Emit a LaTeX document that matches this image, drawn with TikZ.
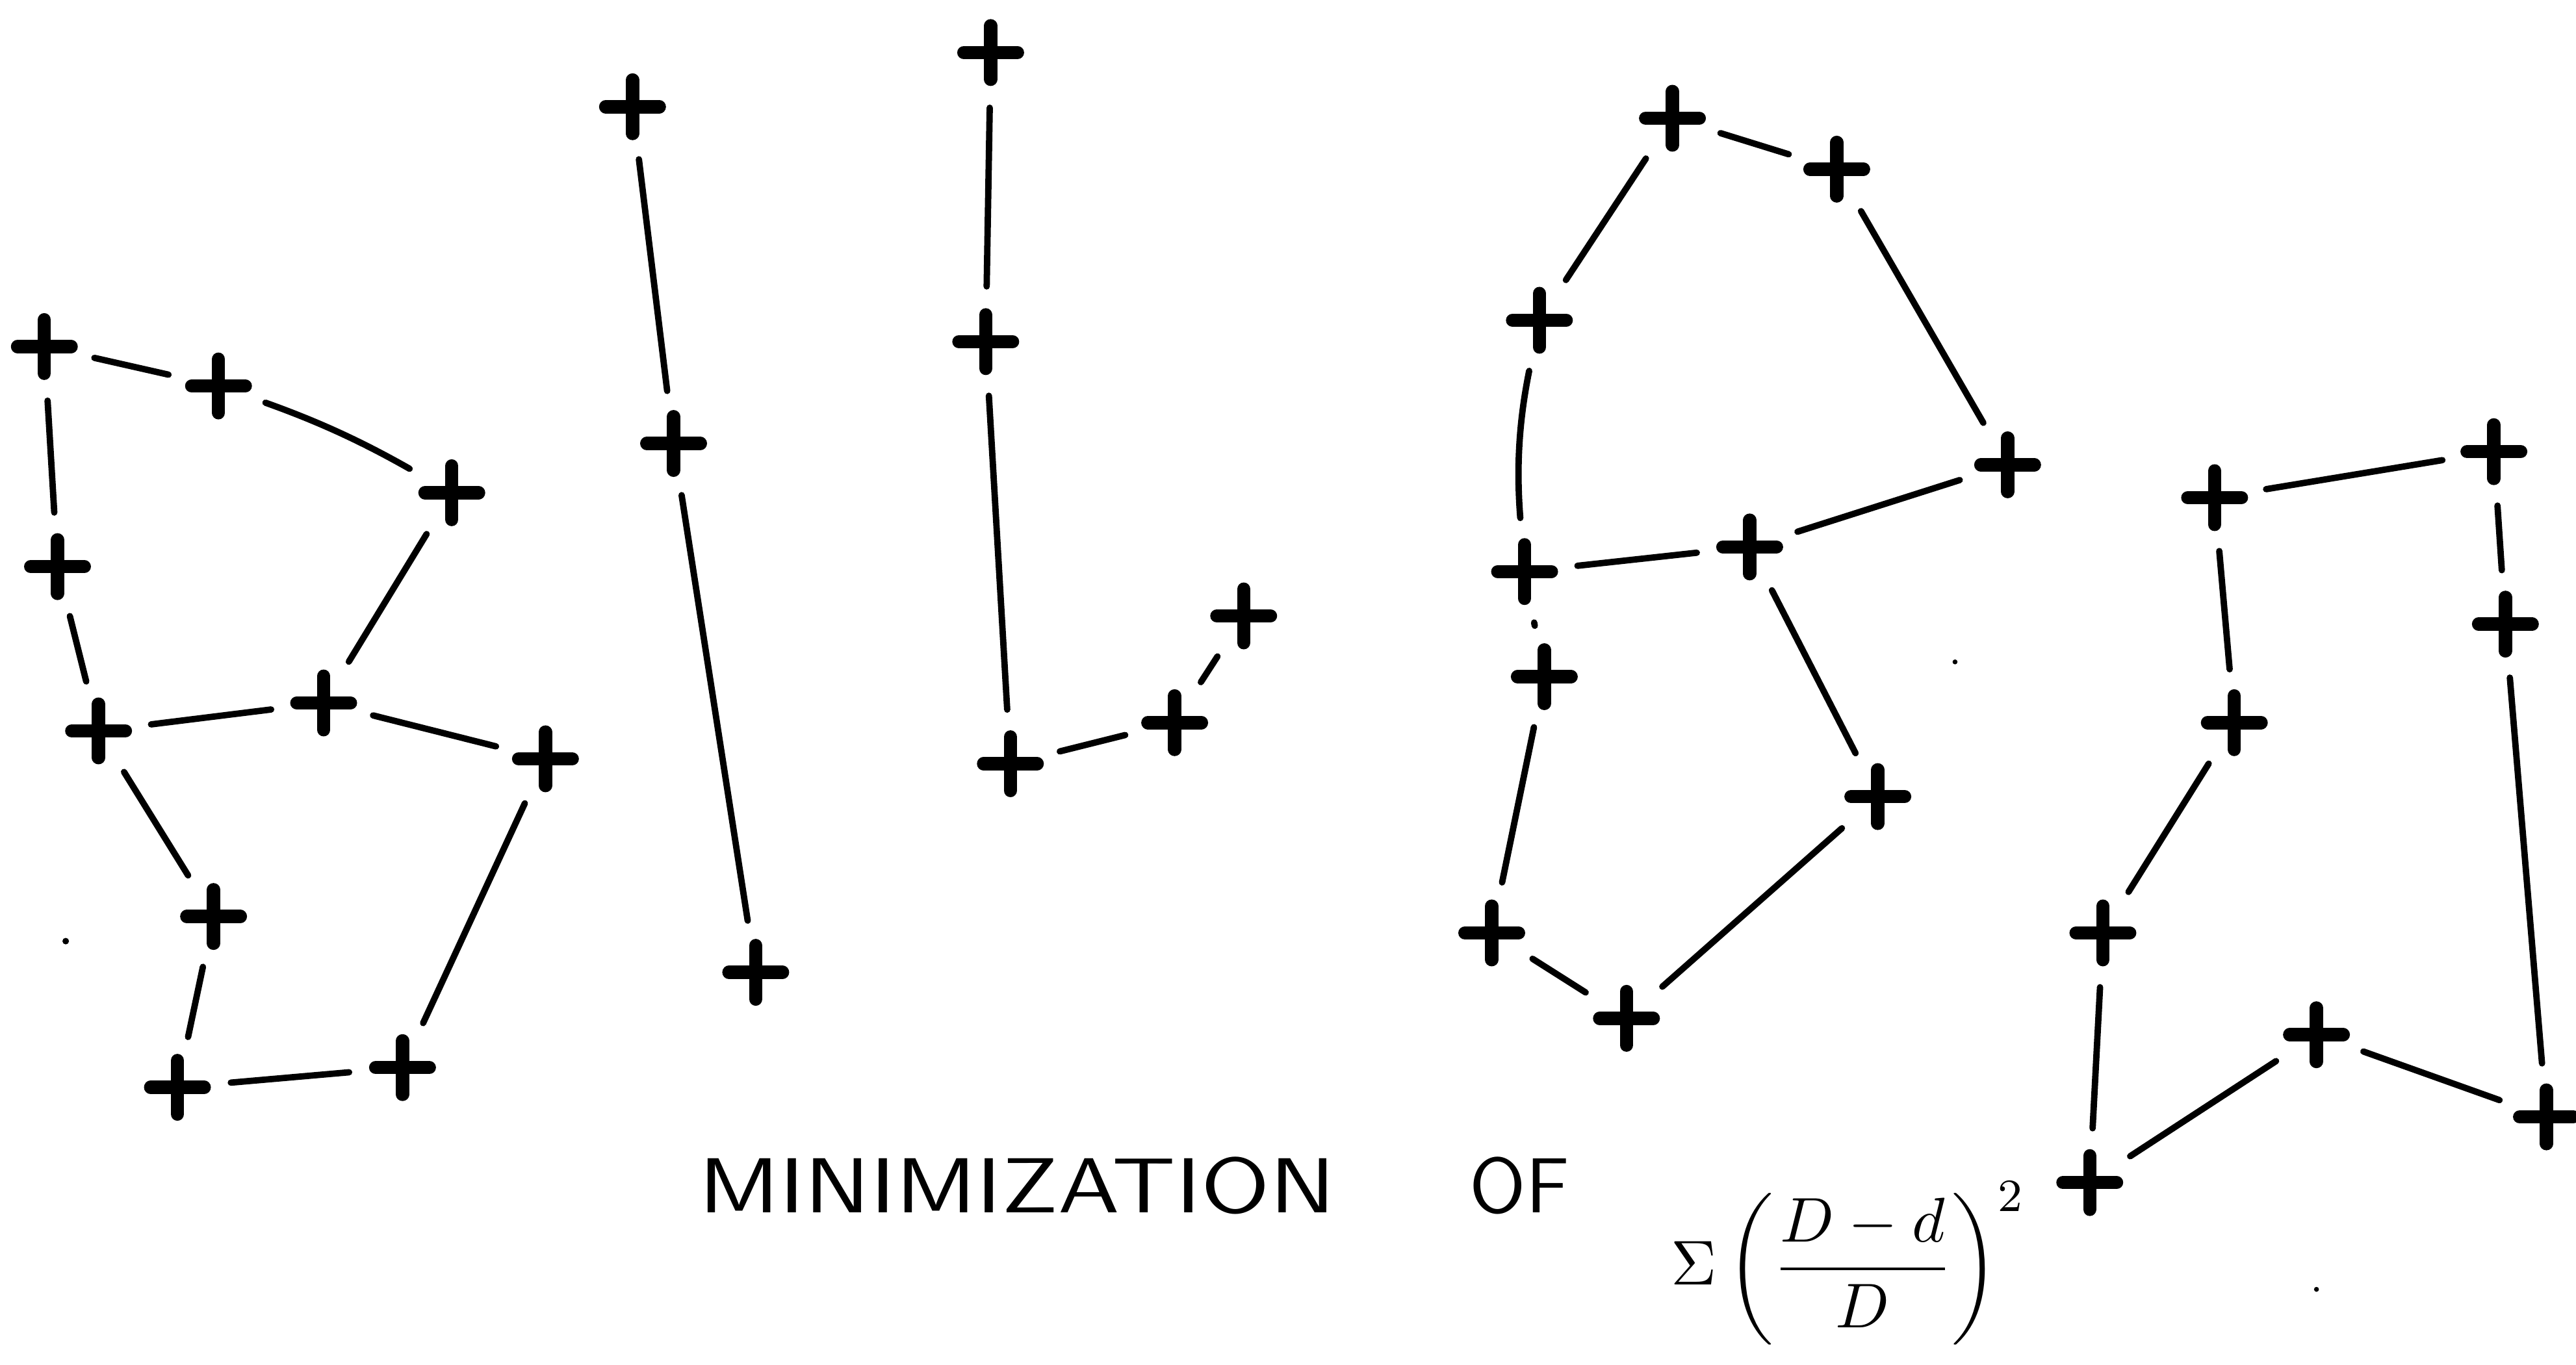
\documentclass[tikz,border=0pt]{standalone}
\usepackage{fontspec}
\usepackage{amsmath}
\usepackage{tikz}
\usetikzlibrary{shapes.misc}
\colorlet{ink}{black}

\begin{document}
\begin{tikzpicture}[
    pt/.style={cross out, draw=ink, line width=2.3pt, line cap=round, minimum size=0.15cm, inner sep=0pt, rotate=45},
    link/.style={draw=ink, line width=1.1pt, line cap=round, shorten <=5pt, shorten >=5pt},
    label/.style={font=\fontsize{13.5}{15}\sffamily, inner sep=0pt}]
    \useasboundingbox (0,0) rectangle (15.68,8.31);

    % First configuration (ten points)
    \node[pt] (a1) at (0.27, 6.20) {};
    \node[pt] (a2) at (1.33, 5.96) {};
    \node[pt] (a3) at (2.75, 5.31) {};
    \node[pt] (a4) at (0.35, 4.86) {};
    \node[pt] (a5) at (0.60, 3.86) {};
    \node[pt] (a6) at (1.97, 4.03) {};
    \node[pt] (a7) at (3.32, 3.69) {};
    \node[pt] (a8) at (1.30, 2.73) {};
    \node[pt] (a9) at (1.08, 1.69) {};
    \node[pt] (a10) at (2.45, 1.81) {};
    \draw[link] (a1) -- (a2);
    \draw[link] (a2) to[bend left=5] (a3);
    \draw[link] (a1) -- (a4);
    \draw[link] (a4) -- (a5);
    \draw[link] (a3) -- (a6);
    \draw[link] (a5) -- (a6);
    \draw[link] (a6) -- (a7);
    \draw[link] (a5) -- (a8);
    \draw[link] (a8) -- (a9);
    \draw[link] (a9) -- (a10);
    \draw[link] (a7) -- (a10);

    % Second configuration (three points)
    \node[pt] (b1) at (3.85, 7.66) {};
    \node[pt] (b2) at (4.10, 5.61) {};
    \node[pt] (b3) at (4.60, 2.39) {};
    \draw[link] (b1) -- (b2);
    \draw[link] (b2) -- (b3);

    % Third configuration (five points)
    \node[pt] (c1) at (6.03, 7.99) {};
    \node[pt] (c2) at (6.00, 6.23) {};
    \node[pt] (c3) at (6.15, 3.66) {};
    \node[pt] (c4) at (7.15, 3.91) {};
    \node[pt] (c5) at (7.57, 4.56) {};
    \draw[link] (c1) -- (c2);
    \draw[link] (c2) -- (c3);
    \draw[link] (c3) -- (c4);
    \draw[link] (c4) -- (c5);

    % Fourth configuration (ten points)
    \node[pt] (d1) at (10.18, 7.59) {};
    \node[pt] (d2) at (11.18, 7.28) {};
    \node[pt] (d3) at (9.37, 6.36) {};
    \node[pt] (d4) at (12.22, 5.48) {};
    \node[pt] (d5) at (9.28, 4.83) {};
    \node[pt] (d6) at (10.65, 4.98) {};
    \node[pt] (d7) at (9.40, 4.19) {};
    \node[pt] (d8) at (11.43, 3.46) {};
    \node[pt] (d9) at (9.08, 2.63) {};
    \node[pt] (d10) at (9.90, 2.11) {};
    \draw[link] (d1) -- (d2);
    \draw[link] (d1) -- (d3);
    \draw[link] (d2) -- (d4);
    \draw[link] (d3) to[bend right=8] (d5);
    \draw[link] (d5) -- (d6);
    \draw[link] (d6) -- (d4);
    \draw[link] (d5) -- (d7);
    \draw[link] (d6) -- (d8);
    \draw[link] (d7) -- (d9);
    \draw[link] (d9) -- (d10);
    \draw[link] (d10) -- (d8);

    % Fifth configuration (eight points)
    \node[pt] (e1) at (13.48, 5.28) {};
    \node[pt] (e2) at (15.18, 5.56) {};
    \node[pt] (e3) at (15.25, 4.51) {};
    \node[pt] (e4) at (13.60, 3.91) {};
    \node[pt] (e5) at (12.80, 2.63) {};
    \node[pt] (e6) at (14.10, 2.01) {};
    \node[pt] (e7) at (15.50, 1.51) {};
    \node[pt] (e8) at (12.72, 1.11) {};
    \draw[link] (e1) -- (e2);
    \draw[link] (e1) -- (e4);
    \draw[link] (e2) -- (e3);
    \draw[link] (e3) -- (e7);
    \draw[link] (e4) -- (e5);
    \draw[link] (e5) -- (e8);
    \draw[link] (e8) -- (e6);
    \draw[link] (e6) -- (e7);

    % Caption and criterion
    \node[label] (cap) at (6.19, 1.09) {\scalebox{1.22}[1]{MINIMIZATION}};
    \node[label] (of) at (9.25, 1.09) {OF};
    \node[inner sep=0pt, font=\fontsize{11}{13}\selectfont] (crit) at (11.25, 0.62)
        {$\displaystyle \Sigma\left(\frac{D-d}{D}\right)^{2}$};

    % stray specks of the scan
    \fill[ink] (0.40, 2.58) circle (0.02);
    \fill[ink] (11.90, 4.28) circle (0.015);
    \fill[ink] (14.10, 0.46) circle (0.015);
\end{tikzpicture}
\end{document}
